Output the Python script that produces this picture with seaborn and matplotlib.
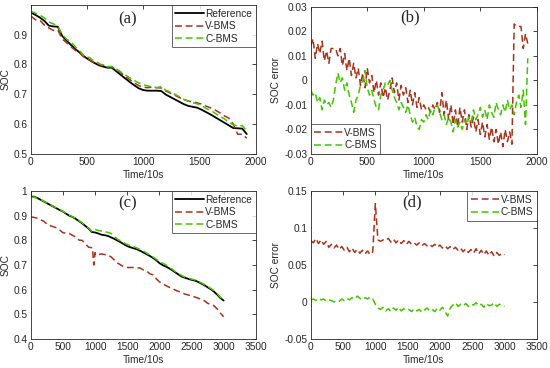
import numpy as np
import matplotlib
matplotlib.use("Agg")
import matplotlib.pyplot as plt
import seaborn as sns

# ---- panel (a): SOC, first test ----
t_a = np.arange(0, 1921, 40)
ref_a = [0.974, 0.966, 0.957, 0.946, 0.930, 0.927, 0.926, 0.895, 0.879, 0.864,
         0.850, 0.838, 0.825, 0.815, 0.806, 0.798, 0.793, 0.789, 0.789, 0.777,
         0.765, 0.753, 0.741, 0.730, 0.720, 0.714, 0.712, 0.712, 0.712, 0.711,
         0.699, 0.691, 0.683, 0.675, 0.667, 0.661, 0.658, 0.655, 0.648, 0.640,
         0.632, 0.623, 0.614, 0.605, 0.596, 0.587, 0.586, 0.585, 0.567]
vbms_a = [0.962, 0.950, 0.948, 0.932, 0.922, 0.914, 0.915, 0.885, 0.872, 0.858,
          0.846, 0.836, 0.822, 0.815, 0.807, 0.801, 0.798, 0.793, 0.792, 0.782,
          0.772, 0.760, 0.749, 0.738, 0.729, 0.724, 0.722, 0.724, 0.722, 0.721,
          0.711, 0.704, 0.697, 0.689, 0.683, 0.677, 0.675, 0.671, 0.667, 0.660,
          0.654, 0.647, 0.638, 0.628, 0.620, 0.600, 0.566, 0.566, 0.553]
cbms_a = [0.978, 0.972, 0.965, 0.956, 0.942, 0.936, 0.927, 0.900, 0.884, 0.874,
          0.857, 0.843, 0.826, 0.823, 0.812, 0.805, 0.796, 0.792, 0.793, 0.785,
          0.775, 0.765, 0.755, 0.746, 0.738, 0.732, 0.728, 0.725, 0.722, 0.726,
          0.714, 0.707, 0.700, 0.692, 0.683, 0.677, 0.672, 0.668, 0.662, 0.652,
          0.646, 0.636, 0.626, 0.618, 0.606, 0.598, 0.594, 0.595, 0.577]

# ---- panel (b): SOC error, first test ----
t_b = np.arange(0, 1921, 20)
verr_b = [0.014, 0.017, 0.009, 0.015, 0.011, 0.016, 0.008, 0.012, 0.007, 0.013,
          0.013, 0.013, 0.010, 0.013, 0.006, 0.011, 0.004, 0.009, 0.002, 0.007,
          0.001, 0.005, -0.002, 0.003, -0.003, 0.005, -0.001, 0.002, -0.005, 0.000,
          -0.006, -0.001, -0.007, -0.003, -0.008, -0.004, 0.001, -0.005, -0.001, -0.008,
          -0.002, -0.006, -0.003, -0.009, -0.004, -0.010, -0.005, -0.011, -0.007, -0.012,
          -0.010, -0.012, -0.011, -0.013, -0.010, -0.012, -0.009, -0.013, -0.005, -0.014,
          -0.008, -0.016, -0.010, -0.018, -0.012, -0.019, -0.011, -0.017, -0.012, -0.020,
          -0.014, -0.019, -0.015, -0.021, -0.016, -0.022, -0.017, -0.023, -0.018, -0.024,
          -0.019, -0.025, -0.020, -0.026, -0.021, -0.027, -0.020, -0.025, -0.021, -0.026,
          0.023, 0.022, 0.022, 0.022, 0.013, 0.019, 0.015]
cerr_b = [-0.004, -0.006, -0.005, -0.009, -0.007, -0.012, -0.008, -0.010, -0.009, -0.011,
          -0.008, -0.002, 0.003, -0.001, 0.001, -0.004, -0.001, -0.006, -0.009, -0.013,
          -0.008, -0.006, -0.002, 0.000, 0.004, -0.003, -0.006, -0.004, -0.008, -0.011,
          -0.012, -0.006, -0.004, -0.001, -0.002, 0.000, -0.004, -0.007, -0.009, -0.012,
          -0.009, -0.011, -0.013, -0.010, -0.014, -0.017, -0.015, -0.019, -0.020, -0.016,
          -0.017, -0.014, -0.016, -0.012, -0.014, -0.011, -0.010, -0.013, -0.016, -0.014,
          -0.018, -0.015, -0.017, -0.021, -0.016, -0.019, -0.017, -0.020, -0.016, -0.018,
          -0.015, -0.017, -0.012, -0.016, -0.014, -0.011, -0.015, -0.012, -0.016, -0.010,
          -0.013, -0.015, -0.009, -0.012, -0.014, -0.010, -0.013, -0.008, -0.012, -0.010,
          -0.014, -0.009, -0.006, -0.011, -0.004, -0.018, 0.009]

# ---- panel (c): SOC, second test ----
t_c = np.arange(0, 3001, 50)
ref_c = [0.978, 0.977, 0.972, 0.965, 0.958, 0.951, 0.944, 0.937, 0.930, 0.923,
         0.917, 0.908, 0.900, 0.895, 0.887, 0.878, 0.869, 0.858, 0.848, 0.834,
         0.832, 0.828, 0.823, 0.821, 0.818, 0.812, 0.806, 0.799, 0.792, 0.784,
         0.777, 0.772, 0.768, 0.764, 0.758, 0.751, 0.744, 0.737, 0.729, 0.720,
         0.708, 0.700, 0.694, 0.687, 0.679, 0.670, 0.661, 0.653, 0.648, 0.644,
         0.640, 0.637, 0.632, 0.625, 0.618, 0.610, 0.602, 0.592, 0.580, 0.566,
         0.556]
cbms_c = [0.975, 0.976, 0.970, 0.966, 0.959, 0.952, 0.945, 0.938, 0.931, 0.925,
          0.917, 0.910, 0.902, 0.896, 0.889, 0.880, 0.871, 0.860, 0.850, 0.837,
          0.845, 0.840, 0.838, 0.836, 0.832, 0.828, 0.815, 0.805, 0.797, 0.790,
          0.783, 0.779, 0.775, 0.769, 0.763, 0.757, 0.749, 0.741, 0.733, 0.724,
          0.714, 0.708, 0.701, 0.691, 0.683, 0.673, 0.665, 0.657, 0.651, 0.647,
          0.643, 0.640, 0.635, 0.628, 0.621, 0.613, 0.605, 0.596, 0.584, 0.569,
          0.558]
t_cv = [0, 100, 150, 200, 250, 300, 400, 450, 500, 600, 650, 700, 750, 800, 850,
        900, 960, 980, 1000, 1010, 1100, 1200, 1250, 1300, 1350, 1400, 1450, 1500,
        1600, 1700, 1750, 1800, 1850, 1900, 1950, 2000, 2050, 2100, 2150, 2200,
        2250, 2300, 2400, 2500, 2600, 2700, 2750, 2800, 2850, 2900, 2950, 3000]
vbms_c = [0.896, 0.890, 0.884, 0.878, 0.866, 0.860, 0.851, 0.842, 0.831, 0.828,
          0.820, 0.814, 0.801, 0.800, 0.786, 0.772, 0.770, 0.700, 0.750, 0.740,
          0.745, 0.740, 0.733, 0.720, 0.708, 0.700, 0.692, 0.690, 0.690, 0.688,
          0.680, 0.676, 0.665, 0.660, 0.645, 0.632, 0.625, 0.617, 0.610, 0.605,
          0.598, 0.593, 0.582, 0.575, 0.566, 0.555, 0.545, 0.540, 0.535, 0.522,
          0.505, 0.490]

# ---- panel (d): SOC error, second test ----
t_d = np.arange(0, 3001, 40)
verr_d = [0.083, 0.080, 0.086, 0.079, 0.084, 0.078, 0.082, 0.074, 0.078, 0.073,
          0.077, 0.071, 0.075, 0.070, 0.074, 0.068, 0.073, 0.067, 0.071, 0.066,
          0.070, 0.065, 0.069, 0.064, 0.068, 0.133, 0.084, 0.082, 0.084, 0.083,
          0.086, 0.081, 0.085, 0.080, 0.084, 0.079, 0.083, 0.078, 0.082, 0.078,
          0.080, 0.077, 0.080, 0.076, 0.079, 0.076, 0.078, 0.075, 0.078, 0.074,
          0.077, 0.073, 0.076, 0.072, 0.075, 0.071, 0.074, 0.070, 0.073, 0.068,
          0.072, 0.067, 0.071, 0.066, 0.072, 0.065, 0.070, 0.064, 0.069, 0.063,
          0.068, 0.062, 0.067, 0.063, 0.066, 0.064]
cerr_d = [0.003, 0.004, 0.002, 0.005, 0.003, 0.004, 0.001, 0.003, 0.002, 0.000,
          0.002, 0.001, 0.004, 0.002, 0.005, 0.003, 0.006, 0.004, 0.008, 0.005,
          0.003, 0.006, 0.004, 0.007, 0.004, -0.003, -0.008, -0.010, -0.007, -0.012,
          -0.009, -0.013, -0.008, -0.011, -0.007, -0.012, -0.009, -0.011, -0.010, -0.013,
          -0.009, -0.012, -0.010, -0.014, -0.011, -0.008, -0.012, -0.010, -0.013, -0.008,
          -0.011, -0.007, -0.013, -0.019, -0.008, -0.004, -0.001, -0.006, -0.003, -0.005,
          -0.002, -0.006, -0.003, -0.004, -0.001, -0.005, -0.003, -0.007, -0.002, -0.005,
          -0.004, -0.001, -0.006, -0.003, -0.005, -0.006]

REF_COLOR = "black"
V_COLOR = "#a8321c"
C_COLOR = "#44c400"
DASH = (0, (4.5, 2.5))
AX_COLOR = "#262626"

sns.set_style("white")
plt.rcParams["font.family"] = ["Liberation Sans", "DejaVu Sans"]
plt.rcParams["font.size"] = 7

fig = plt.figure(figsize=(5.5, 3.68), dpi=100)
ax_a = fig.add_axes([0.056, 0.5815, 0.409, 0.405])
ax_b = fig.add_axes([0.565, 0.5815, 0.411, 0.400])
ax_c = fig.add_axes([0.056, 0.0788, 0.409, 0.402])
ax_d = fig.add_axes([0.565, 0.0788, 0.411, 0.402])

fmt = plt.FuncFormatter(lambda v, _: f"{v:g}")


def style_axes(ax, tag, tag_x, tag_y):
    ax.tick_params(direction="in", top=True, right=True, length=3, width=0.6,
                   labelsize=7.3, colors=AX_COLOR, pad=2.5)
    for sp in ax.spines.values():
        sp.set_color(AX_COLOR)
        sp.set_linewidth(0.6)
    ax.xaxis.set_major_formatter(fmt)
    ax.yaxis.set_major_formatter(fmt)
    ax.set_xlabel("Time/10s", fontsize=7.3, labelpad=2, color=AX_COLOR)
    ax.text(tag_x, tag_y, tag, transform=ax.transAxes, ha="center", va="center",
            fontsize=12, family=["Liberation Serif", "DejaVu Serif"])


def add_legend(ax, loc):
    leg = ax.legend(loc=loc, fontsize=7.3, frameon=True, fancybox=False,
                    edgecolor=AX_COLOR, borderaxespad=0, handlelength=2.8,
                    handletextpad=0.15, labelspacing=0.25, borderpad=0.35)
    leg.get_frame().set_linewidth(0.6)


# (a)
sns.lineplot(x=t_a, y=ref_a, ax=ax_a, color=REF_COLOR, lw=1.3, label="Reference")
sns.lineplot(x=t_a, y=vbms_a, ax=ax_a, color=V_COLOR, lw=1.1, linestyle=DASH, label="V-BMS")
sns.lineplot(x=t_a, y=cbms_a, ax=ax_a, color=C_COLOR, lw=1.1, linestyle=DASH, label="C-BMS")
ax_a.set_xlim(0, 2000)
ax_a.set_ylim(0.5, 0.999)
ax_a.set_xticks([0, 500, 1000, 1500, 2000])
ax_a.set_yticks([0.5, 0.6, 0.7, 0.8, 0.9])
ax_a.set_ylabel("SOC", fontsize=7.3, labelpad=2, color=AX_COLOR)
style_axes(ax_a, "(a)", 0.43, 0.906)
add_legend(ax_a, "upper right")

# (b)
sns.lineplot(x=t_b, y=verr_b, ax=ax_b, color=V_COLOR, lw=1.1, linestyle=DASH, label="V-BMS")
sns.lineplot(x=t_b, y=cerr_b, ax=ax_b, color=C_COLOR, lw=1.1, linestyle=DASH, label="C-BMS")
ax_b.set_xlim(0, 2000)
ax_b.set_ylim(-0.03, 0.03)
ax_b.set_xticks([0, 500, 1000, 1500, 2000])
ax_b.set_yticks([-0.03, -0.02, -0.01, 0, 0.01, 0.02, 0.03])
ax_b.set_ylabel("SOC error", fontsize=7.3, labelpad=2, color=AX_COLOR)
style_axes(ax_b, "(b)", 0.438, 0.93)
add_legend(ax_b, "lower left")

# (c)
sns.lineplot(x=t_c, y=ref_c, ax=ax_c, color=REF_COLOR, lw=1.3, label="Reference")
sns.lineplot(x=t_cv, y=vbms_c, ax=ax_c, color=V_COLOR, lw=1.1, linestyle=DASH, label="V-BMS")
sns.lineplot(x=t_c, y=cbms_c, ax=ax_c, color=C_COLOR, lw=1.1, linestyle=DASH, label="C-BMS")
ax_c.set_xlim(0, 3500)
ax_c.set_ylim(0.4, 1.0)
ax_c.set_xticks(range(0, 3501, 500))
ax_c.set_yticks([0.4, 0.5, 0.6, 0.7, 0.8, 0.9, 1.0])
ax_c.set_ylabel("SOC", fontsize=7.3, labelpad=2, color=AX_COLOR)
style_axes(ax_c, "(c)", 0.43, 0.92)
add_legend(ax_c, "upper right")

# (d)
sns.lineplot(x=t_d, y=verr_d, ax=ax_d, color=V_COLOR, lw=1.1, linestyle=DASH, label="V-BMS")
sns.lineplot(x=t_d, y=cerr_d, ax=ax_d, color=C_COLOR, lw=1.1, linestyle=DASH, label="C-BMS")
ax_d.set_xlim(0, 3500)
ax_d.set_ylim(-0.05, 0.15)
ax_d.set_xticks(range(0, 3501, 500))
ax_d.set_yticks([-0.05, 0, 0.05, 0.1, 0.15])
ax_d.set_ylabel("SOC error", fontsize=7.3, labelpad=2, color=AX_COLOR)
style_axes(ax_d, "(d)", 0.447, 0.925)
add_legend(ax_d, "upper right")

fig.savefig("out.png", dpi=100)
